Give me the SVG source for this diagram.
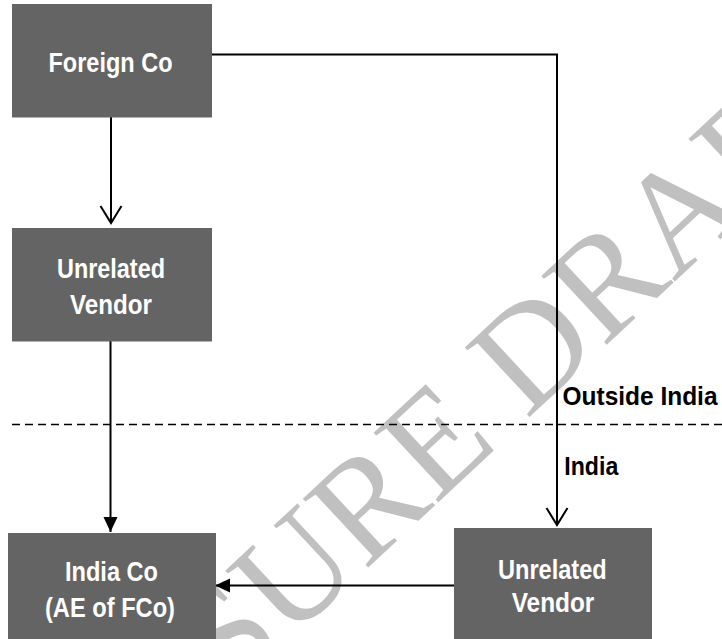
<svg xmlns="http://www.w3.org/2000/svg" width="722" height="639" viewBox="0 0 722 639">
<style>
.box{fill:#646464;}
.nt{font-family:"Liberation Sans",Arial,sans-serif;font-weight:bold;font-size:28px;fill:#ffffff;}
.lbl{font-family:"Liberation Sans",Arial,sans-serif;font-weight:bold;font-size:25px;fill:#000000;}
.conn{fill:none;stroke:#000000;stroke-width:2;}
.wm{font-family:"Liberation Serif","Times New Roman",serif;font-size:145px;fill:#c0c0c0;}
</style>
<defs>
<marker id="open" markerUnits="userSpaceOnUse" markerWidth="40" markerHeight="40" refX="0" refY="0" orient="auto" overflow="visible">
<path d="M-17,-10.5 L0,0 L-17,10.5" fill="none" stroke="#000" stroke-width="2"/>
</marker>
<marker id="solid" markerUnits="userSpaceOnUse" markerWidth="40" markerHeight="40" refX="0" refY="0" orient="auto" overflow="visible">
<path d="M0,0 L-15,-7 L-15,7 Z" fill="#000" stroke="none"/>
</marker>
</defs>
<rect width="722" height="639" fill="#ffffff"/>
<text class="wm" transform="translate(360,575) rotate(-43)" text-anchor="middle">DISCLOSURE DRAFT</text>
<g id="connectors">
<path class="conn" d="M212,54.5 H557 V525" marker-end="url(#open)"/>
<path class="conn" d="M111,117 V223" marker-end="url(#open)"/>
<path class="conn" d="M110.5,341 V532" marker-end="url(#solid)"/>
<path class="conn" d="M454,585.5 H215" marker-end="url(#solid)"/>
<path d="M12,424.5 H722" fill="none" stroke="#000" stroke-width="1.5" stroke-dasharray="8 5"/>
</g>
<g id="foreign-co">
<rect class="box" x="12" y="4" width="200" height="113.5"/>
<text class="nt" x="48.5" y="71.7" textLength="124" lengthAdjust="spacingAndGlyphs">Foreign Co</text>
</g>
<g id="vendor-left">
<rect class="box" x="12" y="228" width="200" height="113.5"/>
<text class="nt" x="57" y="277.5" textLength="108" lengthAdjust="spacingAndGlyphs">Unrelated</text>
<text class="nt" x="70" y="314" textLength="82" lengthAdjust="spacingAndGlyphs">Vendor</text>
</g>
<g id="india-co">
<rect class="box" x="8" y="533" width="208" height="120"/>
<text class="nt" x="65" y="580.7" textLength="93" lengthAdjust="spacingAndGlyphs">India Co</text>
<text class="nt" x="45" y="617" textLength="130" lengthAdjust="spacingAndGlyphs">(AE of FCo)</text>
</g>
<g id="vendor-right">
<rect class="box" x="454" y="528" width="198" height="120"/>
<text class="nt" x="498" y="579" textLength="108.7" lengthAdjust="spacingAndGlyphs">Unrelated</text>
<text class="nt" x="511.7" y="612.3" textLength="82.6" lengthAdjust="spacingAndGlyphs">Vendor</text>
</g>
<g id="labels">
<text class="lbl" x="562.5" y="405" textLength="155" lengthAdjust="spacingAndGlyphs">Outside India</text>
<text class="lbl" x="564.3" y="475" textLength="54" lengthAdjust="spacingAndGlyphs">India</text>
</g>
</svg>
